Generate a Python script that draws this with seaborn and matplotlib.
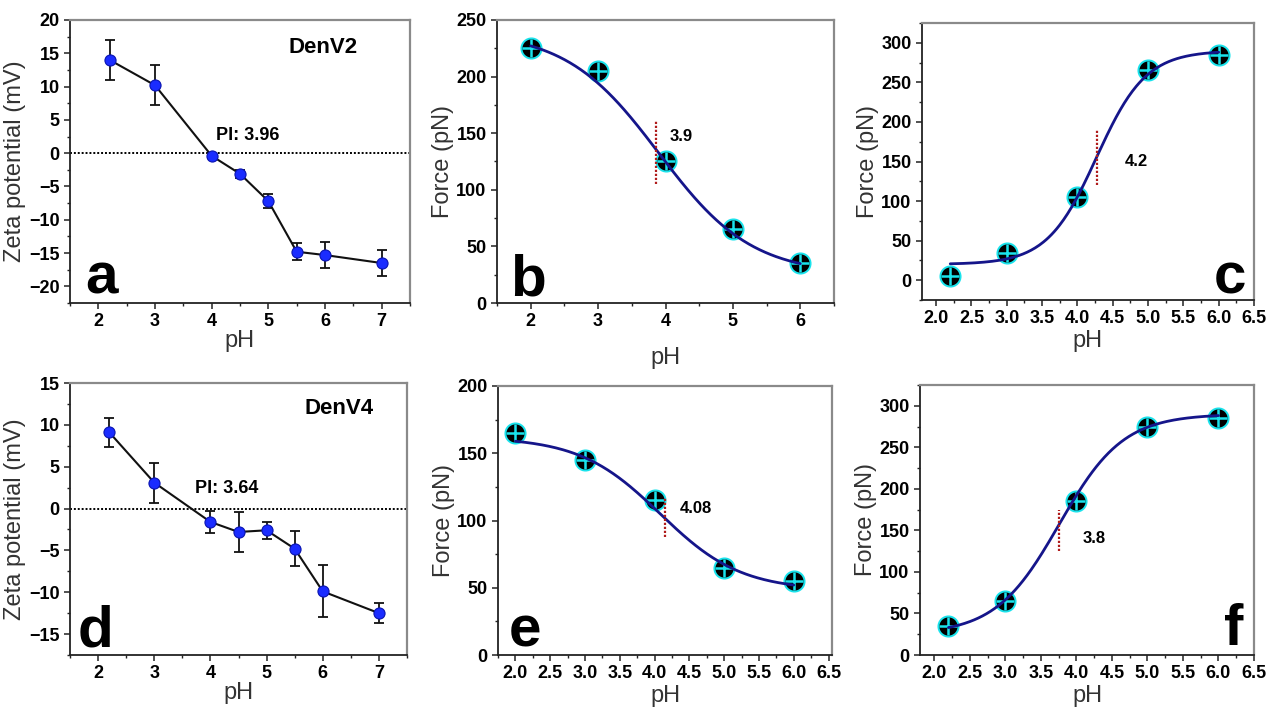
import numpy as np
import pandas as pd
import seaborn as sns
import matplotlib.pyplot as plt
from matplotlib.ticker import MultipleLocator, FormatStrFormatter

# zeta potential data (panels a, d)
ph_zeta = [2.2, 3, 4, 4.5, 5, 5.5, 6, 7]
zeta_denv2 = [14.0, 10.2, -0.4, -3.1, -7.2, -14.8, -15.3, -16.5]
zeta_denv2_err = [3.0, 3.0, 0.3, 0.6, 1.1, 1.3, 2.0, 1.9]
zeta_denv4 = [9.1, 3.1, -1.6, -2.8, -2.6, -4.8, -9.9, -12.5]
zeta_denv4_err = [1.7, 2.4, 1.3, 2.4, 1.0, 2.1, 3.1, 1.2]

# force data (panels b, c, e, f)
ph_b = [2, 3, 4, 5, 6]
force_b = [225, 205, 125, 65, 35]
ph_c = [2.2, 3, 4, 5, 6]
force_c = [5, 35, 105, 265, 285]
ph_e = [2, 3, 4, 5, 6]
force_e = [165, 145, 115, 65, 55]
ph_f = [2.2, 3, 4, 5, 6]
force_f = [35, 65, 185, 275, 285]

# Boltzmann fit parameters: A1, A2, x0, dx
fit_b = [240, 25, 3.9, 0.69]
fit_c = [20, 290, 4.27, 0.35]
fit_e = [162, 48, 4.08, 0.58]
fit_f = [25, 290, 3.76, 0.45]

sns.set_style('ticks')
plt.rcParams['font.family'] = ['Liberation Sans', 'DejaVu Sans']

W, H = 1276, 709
fig = plt.figure(figsize=(W / 100, H / 100), dpi=100)


def add_ax(x0, y0, x1, y1):
    ax = fig.add_axes([x0 / W, 1 - y1 / H, (x1 - x0) / W, (y1 - y0) / H])
    for s in ['left', 'bottom']:
        ax.spines[s].set_color('#222222')
        ax.spines[s].set_linewidth(1.3)
    for s in ['top', 'right']:
        ax.spines[s].set_color('#8a8a8a')
        ax.spines[s].set_linewidth(1.6)
    ax.tick_params(which='major', direction='out', length=4, width=1.1,
                   labelsize=13, labelcolor='black', color='#222222',
                   top=False, right=False)
    ax.tick_params(which='minor', direction='out', length=2.5, width=1.0,
                   color='#222222', top=False, right=False)
    return ax


def bold_ticks(ax):
    for lab in ax.get_xticklabels() + ax.get_yticklabels():
        lab.set_fontweight('bold')


def boltz(x, p):
    a1, a2, x0, dx = p
    return a2 + (a1 - a2) / (1 + np.exp((x - x0) / dx))


def zeta_panel(ax, y, err, ylim, yticks, name, name_xy, pi_txt, pi_xy, letter):
    df = pd.DataFrame({'pH': ph_zeta, 'zeta': y})
    ax.axhline(0, color='black', ls=(0, (1, 1)), lw=1.4, zorder=1)
    ax.errorbar(ph_zeta, y, yerr=err, fmt='none', ecolor='#111111',
                elinewidth=1.3, capsize=3.5, capthick=1.3, zorder=2)
    sns.lineplot(data=df, x='pH', y='zeta', ax=ax, color='#111111', lw=1.5,
                 marker='o', markersize=8, markerfacecolor='#1a2cff',
                 markeredgecolor='#0a14b0', markeredgewidth=0.8, zorder=3)
    ax.set_xlim(1.5, 7.5)
    ax.set_ylim(*ylim)
    ax.xaxis.set_major_locator(MultipleLocator(1))
    ax.xaxis.set_minor_locator(MultipleLocator(0.5))
    ax.set_yticks(yticks)
    ax.yaxis.set_minor_locator(MultipleLocator(2.5))
    ax.set_xlabel('pH', fontsize=17, color='#333333', labelpad=0)
    ax.set_ylabel('Zeta potential (mV)', fontsize=17, color='#333333', labelpad=2)
    ax.text(*name_xy, name, fontsize=16, fontweight='bold', va='center', color='black')
    ax.text(*pi_xy, pi_txt, fontsize=13, fontweight='bold', va='center', color='black')
    ax.text(letter[1], letter[2], letter[0], transform=ax.transAxes, fontsize=42,
            fontweight='heavy', va='baseline', ha='left', color='black')
    bold_ticks(ax)


def force_panel(ax, x, y, fit, xlim, ylim, yticks, xmajor, xfmt,
                vline, label_txt, label_xy, letter, ha):
    xs = np.linspace(min(x), max(x), 200)
    curve = pd.DataFrame({'pH': xs, 'F': boltz(xs, fit)})
    pts = pd.DataFrame({'pH': x, 'F': y})
    sns.scatterplot(data=pts, x='pH', y='F', ax=ax, s=210, color='black',
                    edgecolor='#19e3ec', linewidth=1.4, zorder=3)
    sns.scatterplot(data=pts, x='pH', y='F', ax=ax, s=150, marker='+',
                    color='#19e3ec', linewidth=1.8, zorder=4)
    sns.lineplot(data=curve, x='pH', y='F', ax=ax, color='#15158a', lw=2.0, zorder=5)
    ax.plot([vline[0], vline[0]], vline[1:], color='#b01c1c', ls=(0, (1, 0.8)),
            lw=1.6, zorder=6)
    ax.text(*label_xy, label_txt, fontsize=12, fontweight='bold', va='center', color='black')
    ax.set_xlim(*xlim)
    ax.set_ylim(*ylim)
    ax.xaxis.set_major_locator(MultipleLocator(xmajor))
    ax.xaxis.set_minor_locator(MultipleLocator(xmajor / 2))
    ax.xaxis.set_major_formatter(FormatStrFormatter(xfmt))
    ax.set_yticks(yticks)
    ax.yaxis.set_minor_locator(MultipleLocator(25))
    ax.set_xlabel('pH', fontsize=17, color='#333333', labelpad=2)
    ax.set_ylabel('Force (pN)', fontsize=17, color='#333333', labelpad=2)
    ax.text(letter[1], letter[2], letter[0], transform=ax.transAxes, fontsize=42,
            fontweight='heavy', va='baseline', ha=ha, color='black')
    bold_ticks(ax)


ax_a = add_ax(70, 20, 410, 303)
zeta_panel(ax_a, zeta_denv2, zeta_denv2_err, (-22.5, 20), list(range(-20, 21, 5)),
           'DenV2', (5.35, 15.8), 'PI: 3.96', (4.07, 2.6), ('a', 0.044, 0.035))

ax_d = add_ax(70, 383, 407, 655)
zeta_panel(ax_d, zeta_denv4, zeta_denv4_err, (-17.5, 15), list(range(-15, 16, 5)),
           'DenV4', (5.67, 11.9), 'PI: 3.64', (3.72, 2.4), ('d', 0.024, 0.03))

ax_b = add_ax(497, 20, 834, 303)
force_panel(ax_b, ph_b, force_b, fit_b, (1.5, 6.5), (0, 250), list(range(0, 251, 50)),
            1, '%d', (3.86, 105, 162), '3.9', (4.06, 147), ('b', 0.04, 0.028), 'left')
ax_b.xaxis.labelpad = 12

ax_c = add_ax(922, 23, 1254, 300)
force_panel(ax_c, ph_c, force_c, fit_c, (1.8, 6.5), (-25, 325), list(range(0, 301, 50)),
            0.5, '%.1f', (4.28, 120, 190), '4.2', (4.67, 150), ('c', 0.975, 0.025), 'right')

ax_e = add_ax(498, 386, 832, 655)
force_panel(ax_e, ph_e, force_e, fit_e, (1.75, 6.55), (0, 200), list(range(0, 201, 50)),
            0.5, '%.1f', (4.15, 88, 117), '4.08', (4.36, 109), ('e', 0.033, 0.03), 'left')

ax_f = add_ax(920, 385, 1254, 655)
force_panel(ax_f, ph_f, force_f, fit_f, (1.8, 6.5), (0, 325), list(range(0, 301, 50)),
            0.5, '%.1f', (3.76, 125, 175), '3.8', (4.09, 140), ('f', 0.967, 0.037), 'right')

fig.savefig('out.png', dpi=100, facecolor='white')
